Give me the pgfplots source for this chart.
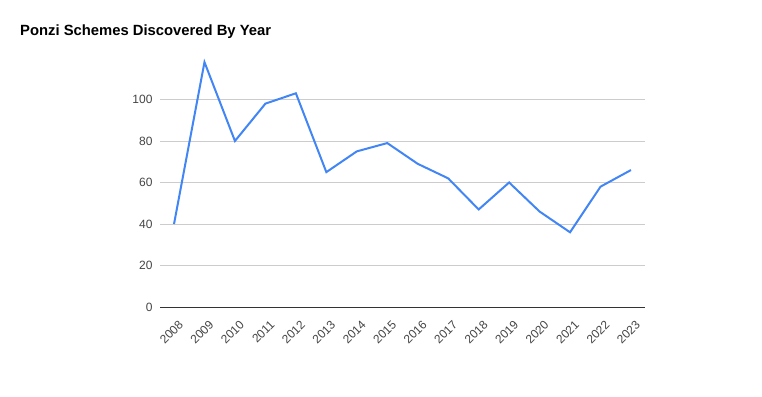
\documentclass[border=0pt]{standalone}
\usepackage{pgfplots}
\pgfplotsset{compat=1.18}
\usepackage{fontspec}
\setmainfont{Liberation Sans}
\definecolor{gblue}{HTML}{4285F4}
\definecolor{ggrid}{HTML}{CCCCCC}
\definecolor{glabel}{HTML}{444444}
\definecolor{gaxis}{HTML}{333333}
\begin{document}
\begin{tikzpicture}
\useasboundingbox (0,0) rectangle (762bp,397bp);
\node[anchor=base west, inner sep=0pt, font=\fontsize{14.8bp}{18bp}\selectfont\bfseries] at (20bp,361bp) {Ponzi Schemes Discovered By Year};
\begin{axis}[
  at={(160bp,90bp)}, anchor=south west,
  scale only axis, width=485bp, height=249bp,
  xmin=-0.46, xmax=15.46, ymin=0, ymax=120,
  xtick={0,...,15},
  xticklabels={2008,2009,2010,2011,2012,2013,2014,2015,2016,2017,2018,2019,2020,2021,2022,2023},
  ytick={0,20,40,60,80,100},
  axis x line=bottom, axis y line=left,
  axis line style={-},
  y axis line style={draw=none},
  x axis line style={draw=gaxis, line width=0.8bp},
  major tick length=0pt,
  ymajorgrids, grid style={ggrid, line width=0.8bp},
  tick label style={text=glabel, font=\fontsize{12bp}{14bp}\selectfont},
  xticklabel style={rotate=45, anchor=east, inner sep=1bp, yshift=-16bp, xshift=-5bp},
  yticklabel style={xshift=-4bp},
  /pgf/number format/assume math mode=true,
  clip=false,
]
\addplot[gblue, line width=2bp, line join=miter, mark=none] coordinates {
(0,40) (1,118) (2,80) (3,98) (4,103) (5,65) (6,75) (7,79)
(8,69) (9,62) (10,47) (11,60) (12,46) (13,36) (14,58) (15,66)
};
\end{axis}
\end{tikzpicture}
\end{document}
